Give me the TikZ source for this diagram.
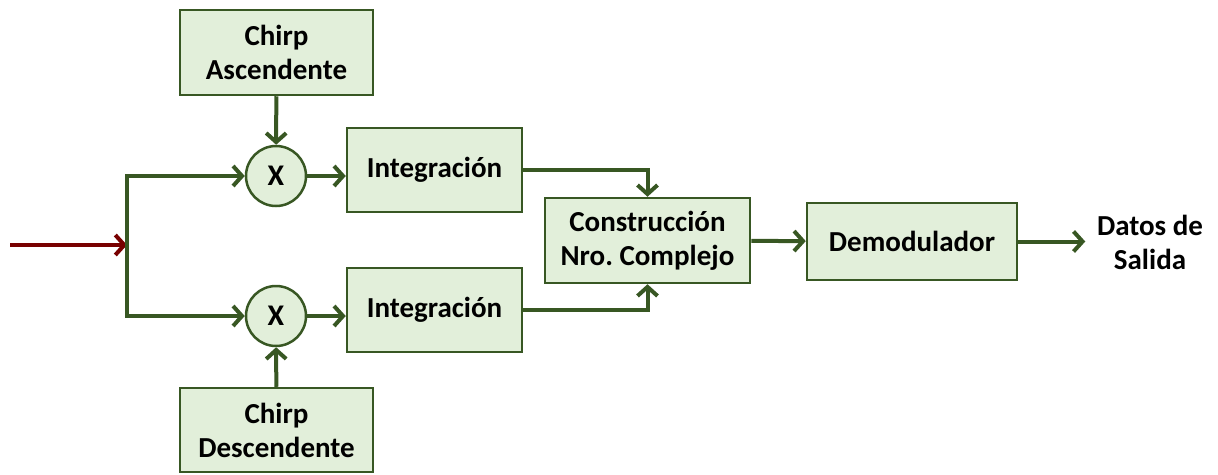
\documentclass[tikz,border=0pt]{standalone}
\usepackage{fontspec}
\setmainfont{Carlito}
\usetikzlibrary{arrows.meta}
\definecolor{verde}{RGB}{56,87,35}
\definecolor{fondo}{RGB}{226,239,218}
\definecolor{rojo}{RGB}{120,0,0}
\frenchspacing
\begin{document}
\begin{tikzpicture}[x=1pt,y=1pt,yscale=-1,xscale=1,
    caja/.style={draw=verde, fill=fondo, line width=2.5, inner sep=0, align=center,
      font=\bfseries\fontsize{29}{34}\selectfont},
    mult/.style={circle, draw=verde, fill=fondo, line width=2.5, minimum size=60, inner sep=0,
      font=\bfseries\fontsize{30}{34}\selectfont},
    flecha/.style={draw=verde, line width=4, -{Straight Barb[length=9,width=20]}}]
    \useasboundingbox (0,0) rectangle (1218,474);

    % Chirp blocks
    \node (chirpA) [caja, minimum width=193, minimum height=85] at (276.5,52.5) {Chirp\\Ascendente};
    \node (chirpD) [caja, minimum width=193, minimum height=84] at (276.5,430) {Chirp\\Descendente};

    % Multipliers
    \node (multA) [mult] at (276,176) {X};
    \node (multD) [mult] at (276,316) {X};

    % Integrators
    \node (intA) [caja, minimum width=175, minimum height=84] at (434.5,170) {Integración};
    \node (intD) [caja, minimum width=175, minimum height=84] at (434.5,310) {Integración};

    % Complex number and demodulator
    \node (comp) [caja, minimum width=205, minimum height=85] at (647.5,240.5) {Construcción\\Nro. Complejo};
    \node (demod) [caja, minimum width=210, minimum height=77] at (912,241.5) {Demodulador};

    % Text Node
    \node (salida) [align=center, inner sep=0, font=\bfseries\fontsize{29}{34}\selectfont] at (1150,242) {Datos de\\Salida};

    % Input and branch
    \coordinate (entrada) at (10,245);
    \coordinate (rama) at (127,245);
    \draw [rojo, line width=4, -{Straight Barb[length=9,width=20]}] (entrada) -- (rama);
    \draw [flecha] (rama) |- (multA);
    \draw [flecha] (rama) |- (multD);

    \draw [flecha] (chirpA) -- (multA);
    \draw [flecha] (chirpD) -- (multD);
    \draw [flecha] (multA) -- (multA -| intA.west);
    \draw [flecha] (multD) -- (multD -| intD.west);

    \draw [flecha] (intA.east) -| (comp.north);
    \draw [flecha] (intD.east) -| (comp.south);
    \draw [flecha] (comp) -- (demod);
    \draw [flecha] (demod.east) -- ++(67,0);
\end{tikzpicture}
\end{document}
